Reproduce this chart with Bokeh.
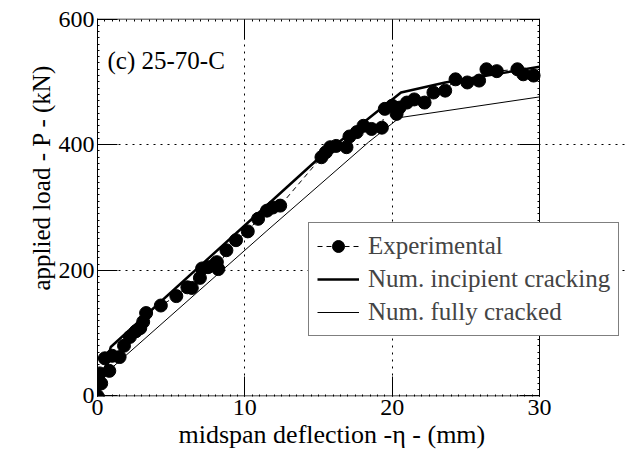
import numpy as np
from bokeh.plotting import figure
from bokeh.models import (LinearAxis, Legend, LegendItem, Label, FixedTicker,
                          Range1d, Title, CustomJSTickFormatter)
from bokeh.embed import file_html
from bokeh.resources import INLINE

# ---- data ----
exp_x = [0, -0.2, 0.25, 0.15, 0.8, 0.5, 1.0, 1.5, 1.8, 2.2, 2.6, 2.9, 3.1, 3.3,
         4.3, 5.35, 6.1, 6.4, 6.95, 7.1, 7.5, 7.9, 8.1, 8.2, 8.75, 9.4, 10.2,
         10.9, 11.5, 11.9, 12.4, 15.2, 15.5, 15.8, 16.2, 16.9, 17.1, 17.6,
         18.05, 18.6, 19.3, 19.5, 20.0, 20.3, 20.5, 21.0, 21.5, 22.2, 22.8,
         23.6, 24.3, 25.1, 25.9, 26.4, 27.1, 28.5, 28.9, 29.6]
exp_y = [0, 23, 20, 36, 40, 60, 64, 62, 80, 94, 103, 108, 118, 132,
         144, 159, 173, 172, 188, 203, 205, 208, 213, 202, 232, 248, 262,
         282, 295, 300, 303, 380, 388, 396, 398, 396, 413, 420,
         430, 425, 427, 457, 462, 449, 459, 467, 472, 467, 483,
         486, 504, 499, 502, 520, 517, 520, 512, 510]

incip_x = [0, 0.9, 15.0, 20.6, 23.6, 30.0]
incip_y = [0, 78, 378, 483, 499, 524]

full_x = [0, 0.5, 11.5, 18.4, 20.5, 30.0]
full_y = [0, 35, 263, 404, 443, 476]

x_major = [0, 10, 20, 30]
y_major = [0, 200, 400, 600]
x_grid = [10, 20]
y_grid = [200, 400]
X_MIN, X_MAX = 0, 30
Y_MIN, Y_MAX = 0, 600

FONT = "Liberation Serif"

FRAME_W, FRAME_H = 530, 378
PLOT_W = 442  # pixels used by 0..30 mm
x_end = X_MAX * FRAME_W / PLOT_W

p = figure(frame_width=FRAME_W, frame_height=FRAME_H,
           x_range=Range1d(X_MIN, x_end), y_range=Range1d(Y_MIN - 0.8, Y_MAX + 0.8),
           output_backend="svg", toolbar_location=None,
           min_border_left=97, min_border_right=1, min_border_top=18,
           min_border_bottom=68)
p.outline_line_color = None

x_minor = list(np.arange(0, 30.001, 0.5))
y_minor = list(np.arange(0, 600.001, 10))
blank = CustomJSTickFormatter(code="return ''")


def style_axis(ax, ticks, minor, labels=True):
    ax.ticker = FixedTicker(ticks=ticks, minor_ticks=minor)
    ax.major_tick_in = 20
    ax.major_tick_out = 0
    ax.minor_tick_in = 2
    ax.minor_tick_out = 0
    ax.major_tick_line_color = "black"
    ax.minor_tick_line_color = "black"
    ax.axis_line_color = "black"
    if labels:
        ax.major_label_text_font = FONT
        ax.major_label_text_font_size = "24px"
        ax.major_label_text_color = "black"
        ax.major_label_standoff = 3
    else:
        ax.formatter = blank
        ax.major_label_standoff = 0


style_axis(p.xaxis[0], x_major, x_minor)
p.xaxis[0].axis_line_color = None
style_axis(p.yaxis[0], y_major, y_minor)
top = LinearAxis(fixed_location=Y_MAX)
style_axis(top, x_major, x_minor, labels=False)
top.axis_line_color = None
right = LinearAxis(fixed_location=X_MAX)
style_axis(right, y_major, y_minor, labels=False)
p.add_layout(top, "above")
p.add_layout(right, "right")

# axis titles as panel titles so they can be positioned like the reference
p.add_layout(Title(text="midspan deflection -η - (mm)", align="left", offset=81,
                   standoff=0, text_font=FONT, text_font_size="26px",
                   text_font_style="normal", text_color="black"), "below")
p.add_layout(Title(text="applied load - P - (kN)", align="left", offset=106,
                   standoff=2, text_font=FONT, text_font_size="25px",
                   text_font_style="normal", text_color="black"), "left")

p.xgrid.ticker = FixedTicker(ticks=x_grid)
p.ygrid.ticker = FixedTicker(ticks=y_grid)
p.ygrid.bounds = (X_MIN, X_MAX)
for g in (p.xgrid, p.ygrid):
    g.grid_line_color = "black"
    g.grid_line_dash = "2 5"
    g.grid_line_width = 1

# frame border lines (top and bottom) limited to 0..30 mm
p.line([X_MIN, X_MAX], [Y_MAX, Y_MAX], line_color="black", line_width=1)
p.line([X_MIN, X_MAX], [Y_MIN, Y_MIN], line_color="black", line_width=1)

r_exp_line = p.line(exp_x, exp_y, line_color="black", line_width=1, line_dash="5 4")
r_exp_pts = p.scatter(exp_x, exp_y, size=13, fill_color="black", line_color="black")
r_incip = p.line(incip_x, incip_y, line_color="black", line_width=2.5)
r_full = p.line(full_x, full_y, line_color="black", line_width=1)

legend = Legend(items=[
    LegendItem(label="Experimental", renderers=[r_exp_line, r_exp_pts]),
    LegendItem(label="Num. incipient cracking", renderers=[r_incip]),
    LegendItem(label="Num. fully cracked", renderers=[r_full]),
], location=(211, 60))
legend.label_text_font = FONT
legend.label_text_font_size = "25px"
legend.label_standoff = 9
legend.glyph_width = 42
legend.glyph_height = 30
legend.spacing = 3
legend.padding = 8
legend.margin = 0
legend.border_line_color = "black"
legend.border_line_width = 1
legend.background_fill_alpha = 1
p.add_layout(legend)

p.add_layout(Label(x=10, y=336, x_units="screen", y_units="screen",
                   text="(c) 25-70-C", text_font=FONT, text_font_size="25px",
                   text_baseline="middle", text_color="black"))

open("out.html", "w").write(file_html(p, INLINE))
